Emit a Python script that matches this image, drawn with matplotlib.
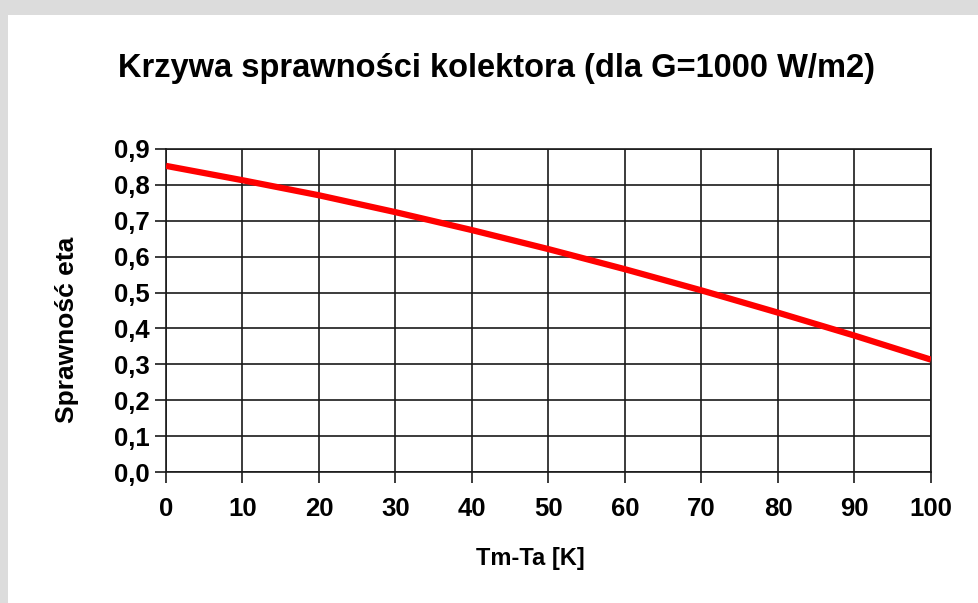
import matplotlib
matplotlib.use("Agg")
import matplotlib.pyplot as plt
from matplotlib.patches import Rectangle
from matplotlib.ticker import FuncFormatter, MultipleLocator

# values
dT = [0, 10, 20, 30, 40, 50, 60, 70, 80, 90, 100]
eta = [0.853, 0.813, 0.771, 0.724, 0.674, 0.621, 0.565, 0.506, 0.444, 0.380, 0.313]

title = "Krzywa sprawności kolektora (dla G=1000 W/m2)"
xlabel = "Tm-Ta [K]"
ylabel = "Sprawność eta"

plt.rcParams['font.family'] = ['Liberation Sans', 'DejaVu Sans']
plt.rcParams['font.weight'] = 'bold'

W, H = 979, 603
fig = plt.figure(figsize=(W / 100, H / 100), dpi=100, facecolor='white')

# grey frame strips (top and left)
gray = '#dcdcdc'
fig.patches.append(Rectangle((0, 1 - 15 / H), 1, 15 / H, transform=fig.transFigure,
                             facecolor=gray, edgecolor='none', zorder=0))
fig.patches.append(Rectangle((0, 0), 8 / W, 1, transform=fig.transFigure,
                             facecolor=gray, edgecolor='none', zorder=0))

left, right = 166 / W, 931 / W
bottom, top = (H - 472) / H, (H - 149) / H
ax = fig.add_axes([left, bottom, right - left, top - bottom])

ax.plot(dT, eta, color='#ff0000', lw=4.5, solid_capstyle='butt', zorder=3)

ax.set_xlim(0, 100)
ax.set_ylim(0, 0.9)
ax.xaxis.set_major_locator(MultipleLocator(10))
ax.yaxis.set_major_locator(MultipleLocator(0.1))
ax.yaxis.set_major_formatter(FuncFormatter(lambda v, p: f'{v:.1f}'.replace('.', ',')))

ax.grid(True, color='#1a1a1a', lw=1.2)
for s in ax.spines.values():
    s.set_color('#1a1a1a')
    s.set_linewidth(1.2)
ax.tick_params(direction='out', length=8, width=1.2, color='#1a1a1a',
               labelsize=18.5, pad=4)
ax.tick_params(axis='x', pad=10)
for lab in ax.get_xticklabels() + ax.get_yticklabels():
    lab.set_fontweight('bold')

fig.text(497 / W, 1 - 68 / H, title, ha='center', va='center',
         fontsize=23.5, fontweight='bold')
fig.text(530 / W, 1 - 558 / H, xlabel, ha='center', va='center',
         fontsize=17, fontweight='bold')
fig.text(67 / W, 1 - 330 / H, ylabel, ha='center', va='center',
         rotation=90, fontsize=19, fontweight='bold')

fig.savefig('out.png', dpi=100, facecolor='white')
